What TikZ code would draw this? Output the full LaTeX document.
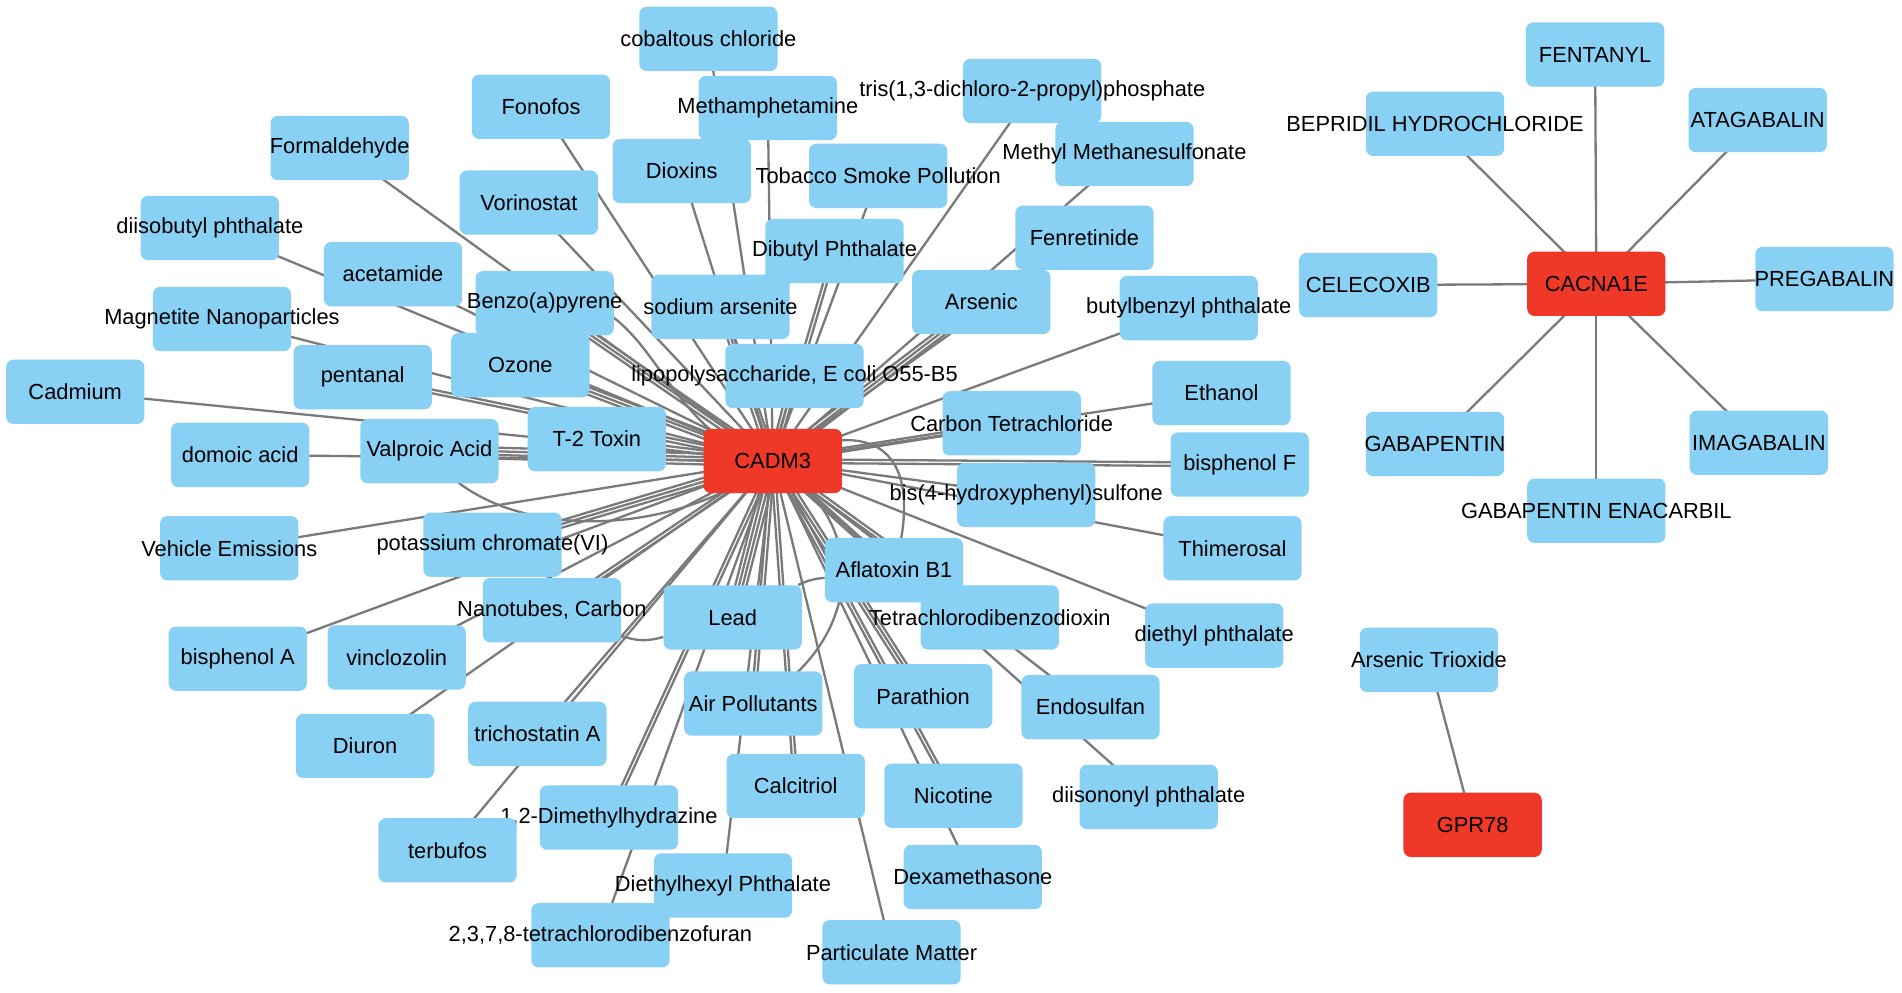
\documentclass[tikz,border=0pt]{standalone}
\usepackage{fontspec}
\setmainfont{Liberation Sans}
\usepackage{xcolor}
\usetikzlibrary{calc}
\definecolor{nodeblue}{RGB}{137,208,245}
\definecolor{genered}{RGB}{240,56,40}
\definecolor{edgegray}{RGB}{122,122,122}
\pgfdeclarelayer{bg}
\pgfsetlayers{bg,main}
\tikzset{
  chem/.style={fill=nodeblue, rounded corners=6pt, minimum width=114pt, minimum height=53pt, inner sep=0pt, font=\fontsize{18}{20}\selectfont},
  gene/.style={chem, fill=genered},
  edge/.style={draw=edgegray, line width=1.9pt},
}
\newcommand{\chemtext}[1]{\makebox[0pt]{#1}}

\begin{document}
\begin{tikzpicture}[x=1pt,y=-1pt]
\useasboundingbox (0,0) rectangle (1568,818.6);
% genes
\node[gene] (cadm3) at (637,380) {\chemtext{CADM3}};
\node[gene] (cacna1e) at (1316,234) {\chemtext{CACNA1E}};
\node[gene] (gpr78) at (1214,680) {\chemtext{GPR78}};
% chemicals around CADM3
\node[chem] (cobalt) at (584,32) {\chemtext{cobaltous chloride}};
\node[chem] (fonofos) at (446,88) {\chemtext{Fonofos}};
\node[chem] (metham) at (633,89) {\chemtext{Methamphetamine}};
\node[chem] (tris) at (851,75) {\chemtext{tris(1,3-dichloro-2-propyl)phosphate}};
\node[chem] (formal) at (280,122) {\chemtext{Formaldehyde}};
\node[chem] (dioxins) at (562,141) {\chemtext{Dioxins}};
\node[chem] (tobacco) at (724,145) {\chemtext{Tobacco Smoke Pollution}};
\node[chem] (mms) at (927,127) {\chemtext{Methyl Methanesulfonate}};
\node[chem] (vorino) at (436,167) {\chemtext{Vorinostat}};
\node[chem] (diisobutyl) at (173,188) {\chemtext{diisobutyl phthalate}};
\node[chem] (dibutyl) at (688,207) {\chemtext{Dibutyl Phthalate}};
\node[chem] (fenret) at (894,196) {\chemtext{Fenretinide}};
\node[chem] (acetamide) at (324,226) {\chemtext{acetamide}};
\node[chem] (benzo) at (449,250) {\chemtext{Benzo(a)pyrene}};
\node[chem] (arsenite) at (594,253) {\chemtext{sodium arsenite}};
\node[chem] (arsenic) at (809,249) {\chemtext{Arsenic}};
\node[chem] (butylbenzyl) at (980,254) {\chemtext{butylbenzyl phthalate}};
\node[chem] (magnetite) at (183,263) {\chemtext{Magnetite Nanoparticles}};
\node[chem] (ozone) at (429,301) {\chemtext{Ozone}};
\node[chem] (pentanal) at (299,311) {\chemtext{pentanal}};
\node[chem] (lps) at (655,310) {\chemtext{lipopolysaccharide, E coli O55-B5}};
\node[chem] (cadmium) at (62,323) {\chemtext{Cadmium}};
\node[chem] (ethanol) at (1007,324) {\chemtext{Ethanol}};
\node[chem] (carbontet) at (834,349) {\chemtext{Carbon Tetrachloride}};
\node[chem] (domoic) at (198,375) {\chemtext{domoic acid}};
\node[chem] (valproic) at (354,372) {\chemtext{Valproic Acid}};
\node[chem] (ttoxin) at (492,362) {\chemtext{T-2 Toxin}};
\node[chem] (bisF) at (1022,383) {\chemtext{bisphenol F}};
\node[chem] (bisSulf) at (846,408) {\chemtext{bis(4-hydroxyphenyl)sulfone}};
\node[chem] (vehicle) at (189,452) {\chemtext{Vehicle Emissions}};
\node[chem] (chromate) at (406,449) {\chemtext{potassium chromate(VI)}};
\node[chem] (thimerosal) at (1016,452) {\chemtext{Thimerosal}};
\node[chem] (aflatoxin) at (737,470) {\chemtext{Aflatoxin B1}};
\node[chem] (nanotubes) at (455,503) {\chemtext{Nanotubes, Carbon}};
\node[chem] (lead) at (604,509) {\chemtext{Lead}};
\node[chem] (tcdd) at (816,509) {\chemtext{Tetrachlorodibenzodioxin}};
\node[chem] (diethyl) at (1001,524) {\chemtext{diethyl phthalate}};
\node[chem] (bisA) at (196,543) {\chemtext{bisphenol A}};
\node[chem] (vinclo) at (327,542) {\chemtext{vinclozolin}};
\node[chem] (diuron) at (301,615) {\chemtext{Diuron}};
\node[chem] (tricho) at (443,605) {\chemtext{trichostatin A}};
\node[chem] (airpoll) at (621,580) {\chemtext{Air Pollutants}};
\node[chem] (parathion) at (761,574) {\chemtext{Parathion}};
\node[chem] (endosulfan) at (899,583) {\chemtext{Endosulfan}};
\node[chem] (calcitriol) at (656,648) {\chemtext{Calcitriol}};
\node[chem] (nicotine) at (786,656) {\chemtext{Nicotine}};
\node[chem] (diisononyl) at (947,657) {\chemtext{diisononyl phthalate}};
\node[chem] (dmh) at (502,674) {\chemtext{1,2-Dimethylhydrazine}};
\node[chem] (terbufos) at (369,701) {\chemtext{terbufos}};
\node[chem] (dexa) at (802,723) {\chemtext{Dexamethasone}};
\node[chem] (dehp) at (596,730) {\chemtext{Diethylhexyl Phthalate}};
\node[chem] (tcdf) at (495,771) {\chemtext{2,3,7,8-tetrachlorodibenzofuran}};
\node[chem] (pm) at (735,785) {\chemtext{Particulate Matter}};
% chemicals around CACNA1E and GPR78
\node[chem] (fentanyl) at (1315,45) {\chemtext{FENTANYL}};
\node[chem] (bepridil) at (1183,102) {\chemtext{BEPRIDIL HYDROCHLORIDE}};
\node[chem] (atagabalin) at (1449,99) {\chemtext{ATAGABALIN}};
\node[chem] (celecoxib) at (1128,235) {\chemtext{CELECOXIB}};
\node[chem] (pregabalin) at (1504,230) {\chemtext{PREGABALIN}};
\node[chem] (gabapentin) at (1183,366) {\chemtext{GABAPENTIN}};
\node[chem] (imagabalin) at (1450,365) {\chemtext{IMAGABALIN}};
\node[chem] (gabaenac) at (1316,421) {\chemtext{GABAPENTIN ENACARBIL}};
\node[chem] (arsenictri) at (1178,544) {\chemtext{Arsenic Trioxide}};

\begin{pgfonlayer}{bg}
\fill[white] (0,0) rectangle (1568,818.6);
% edges to CADM3, with the number of parallel lines
\foreach \n/\m in {cobalt/1, fonofos/1, metham/1, tris/1, formal/1, dioxins/1,
    tobacco/1, mms/1, vorino/1, diisobutyl/1, dibutyl/2, fenret/1, acetamide/1,
    benzo/3, arsenite/3, arsenic/3, butylbenzyl/1, magnetite/1, ozone/3,
    pentanal/2, lps/3, cadmium/1, ethanol/1, carbontet/2, domoic/1, valproic/4,
    ttoxin/2, bisF/2, bisSulf/1, vehicle/1, chromate/3, thimerosal/1,
    aflatoxin/2, nanotubes/2, lead/4, tcdd/2, diethyl/1, bisA/1, vinclo/1,
    diuron/1, tricho/1, airpoll/2, parathion/3, endosulfan/1, calcitriol/2,
    nicotine/2, diisononyl/1, terbufos/1, dmh/2, dexa/1, dehp/1, tcdf/1, pm/1}{
  \foreach \k in {1,...,\m}{
    \pgfmathsetmacro\edgeoff{(\k-(\m+1)/2)*3}
    \draw[edge] ($(cadm3.center)!\edgeoff pt!90:(\n.center)$) -- ($(\n.center)!\edgeoff pt!-90:(cadm3.center)$);
  }
}
% curved edges
\draw[edge] (benzo.center) .. controls (540,232) and (540,360) .. (cadm3.center);
\draw[edge] (valproic.center) .. controls (400,445) and (550,450) .. (cadm3.center);
\draw[edge] (cadm3.center) .. controls (720,340) and (765,370) .. (aflatoxin.center);
\draw[edge] (cadm3.center) .. controls (730,440) and (700,540) .. (airpoll.center);
\draw[edge] (nanotubes) to[bend right=18] (lead);
\draw[edge] (lead) to[bend left=10] (aflatoxin);
% CACNA1E and GPR78
\foreach \n in {fentanyl, bepridil, atagabalin, celecoxib, pregabalin, gabapentin, imagabalin, gabaenac}
  \draw[edge] (cacna1e.center) -- (\n.center);
\draw[edge] (gpr78.center) -- (arsenictri.center);
\end{pgfonlayer}
\end{tikzpicture}
\end{document}
